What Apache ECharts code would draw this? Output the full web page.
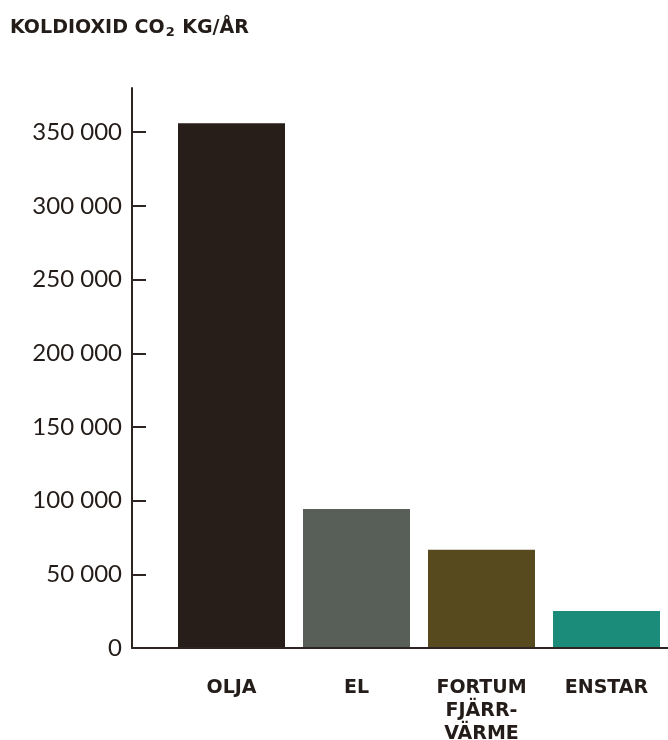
<!DOCTYPE html>
<html>
<head>
<meta charset="utf-8">
<script src="https://cdn.jsdelivr.net/npm/echarts@6/dist/echarts.min.js"></script>
<style>
  html, body { margin: 0; padding: 0; background: #fff; }
  #chart { width: 668px; height: 740px; }
</style>
</head>
<body>
<div id="chart"></div>
<script>
// data
const categories = ["OLJA", "EL", "FORTUM\nFJÄRR-\nVÄRME", "ENSTAR"];
const co2Values = [356000, 94300, 66600, 25100];
const barColors = ["#271e19", "#585e58", "#574a1f", "#1a8c79"];
const yTicks = [0, 50000, 100000, 150000, 200000, 250000, 300000, 350000];

const textColor = "#231c18";
const axisColor = "#2e2522";

function fmt(v) {
  // 350000 -> "350 000"
  return String(v).replace(/\B(?=(\d{3})+(?!\d))/g, " ");
}

const chart = echarts.init(document.getElementById("chart"));

chart.setOption({
  animation: false,
  title: {
    left: 10,
    top: 18,
    padding: 0,
    text: "KOLDIOXID CO{sub|2} KG/ÅR",
    textStyle: {
      fontFamily: "DejaVu Sans",
      fontWeight: "bold",
      fontSize: 19,
      color: textColor,
      rich: {
        sub: { fontFamily: "DejaVu Sans", fontWeight: "bold", fontSize: 13, color: textColor, verticalAlign: "bottom", padding: [8, 1, 0, 1] }
      }
    }
  },
  grid: [
    // grid 0: axis frame (starts at the y axis line)
    { left: 132, right: 0, top: 88, bottom: 92, outerBoundsMode: "none" },
    // grid 1: the bars, offset to the right of the axis
    { left: 169, right: -1, top: 88, bottom: 92, outerBoundsMode: "none" }
  ],
  xAxis: [
    {
      gridIndex: 0,
      type: "value",
      min: 0,
      max: 1,
      z: 5,
      axisLine: { show: true, lineStyle: { color: axisColor, width: 2 } },
      axisTick: { show: false },
      axisLabel: { show: false },
      splitLine: { show: false }
    },
    {
      gridIndex: 1,
      type: "category",
      data: categories,
      axisLine: { show: false },
      axisTick: { show: false },
      axisLabel: {
        margin: 29,
        fontFamily: "DejaVu Sans",
        fontWeight: "bold",
        fontSize: 19,
        lineHeight: 23,
        color: textColor
      }
    }
  ],
  yAxis: [
    {
      gridIndex: 0,
      type: "value",
      min: 0,
      max: 380000,
      z: 5,
      axisLine: { show: true, lineStyle: { color: axisColor, width: 2 } },
      axisTick: {
        show: true,
        inside: true,
        length: 14,
        customValues: yTicks,
        lineStyle: { color: axisColor, width: 2 }
      },
      axisLabel: {
        customValues: yTicks,
        margin: 10,
        fontFamily: "Lato",
        fontSize: 24,
        color: textColor,
        formatter: fmt
      },
      splitLine: { show: false }
    },
    {
      gridIndex: 1,
      type: "value",
      min: 0,
      max: 380000,
      show: false
    }
  ],
  series: [
    {
      type: "bar",
      xAxisIndex: 1,
      yAxisIndex: 1,
      barWidth: 107,
      data: co2Values.map((v, i) => ({ value: v, itemStyle: { color: barColors[i] } }))
    }
  ]
});
</script>
</body>
</html>
